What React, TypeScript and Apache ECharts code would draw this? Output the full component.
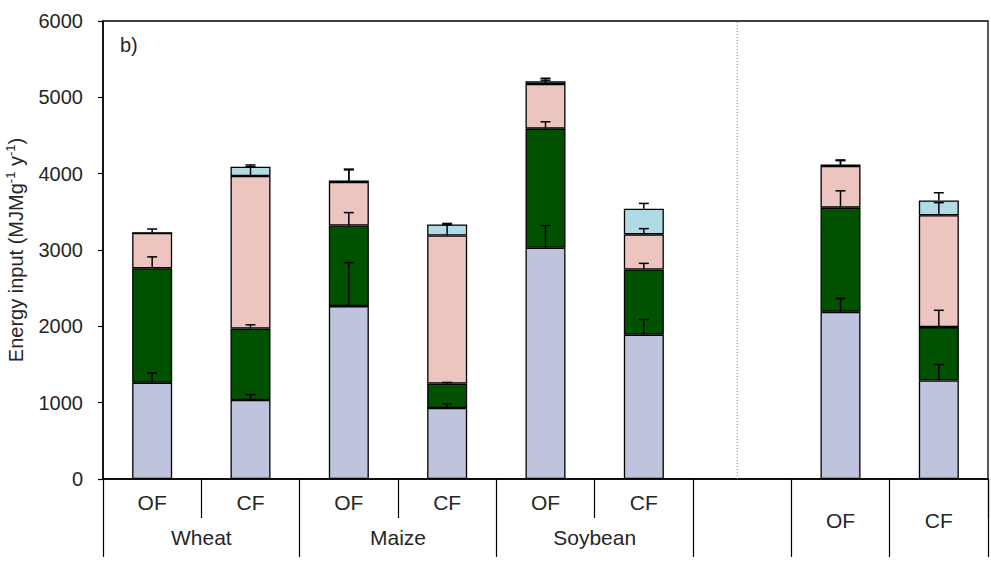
import { useEffect, useRef } from 'react';
import * as echarts from 'echarts';

// ---- data ----
const slots = ['Wheat OF', 'Wheat CF', 'Maize OF', 'Maize CF', 'Soybean OF', 'Soybean CF', 'gap', 'Mean OF', 'Mean CF'];
const slotLabels = ['OF', 'CF', 'OF', 'CF', 'OF', 'CF', '', 'OF', 'CF'];
const groupLabels: Record<number, string> = { 1: 'Wheat', 3: 'Maize', 5: 'Soybean' };
const yTicks = [0, 1000, 2000, 3000, 4000, 5000, 6000];

const seg1 = [1260, 1035, 2265, 930, 3030, 1890, null, 2190, 1290];
const seg1Err = [130, 70, 570, 55, 290, 200, null, 175, 210];
const seg2 = [1500, 935, 1055, 320, 1560, 855, null, 1365, 700];
const seg2Err = [150, 50, 170, 15, 90, 80, null, 220, 220];
const seg3 = [465, 2000, 570, 1940, 585, 460, null, 545, 1465];
const seg3Err = [50, 120, 160, 140, 50, 75, null, 70, 165];
const seg4 = [0, 122, 20, 145, 35, 335, null, 20, 195];
const seg4Err = [0, 22, 150, 13, 40, 70, null, 60, 100];

const segNames = ['Segment 1', 'Segment 2', 'Segment 3', 'Segment 4'];
const segColors = ['#BEC3DE', '#005200', '#ECC4C0', '#B0DAE6'];
const dividerPos = 6.45;
const longTickIdx = [0, 2, 4, 6, 7, 8];
const shortTickIdx = [1, 3, 5];

export default function App() {
  const ref = useRef<HTMLDivElement>(null);
  useEffect(() => {
    if (!ref.current) return;
    const chart = echarts.init(ref.current, null, { renderer: 'svg' });
    const segs = [seg1, seg2, seg3, seg4];
    const errs = [seg1Err, seg2Err, seg3Err, seg4Err];
    const errData: number[][] = [];
    for (let i = 0; i < slots.length; i++) {
      let cum = 0;
      for (let s = 0; s < 4; s++) {
        const v = segs[s][i];
        if (v == null) continue;
        cum += v;
        const e = errs[s][i];
        if (e) errData.push([i, cum, e]);
      }
    }
    const txt = '#262626';
    const font = 'Liberation Sans, Arial, sans-serif';
    const barSeries = segs.map((d, s) => ({
      name: segNames[s],
      type: 'bar',
      stack: 'total',
      xAxisIndex: 0,
      yAxisIndex: 0,
      barWidth: 40,
      data: d.map((v) => (v == null ? '-' : v)),
      itemStyle: { color: segColors[s], borderColor: '#000', borderWidth: 1.3 },
      z: 2,
    }));
    chart.setOption({
      animation: false,
      textStyle: { fontFamily: font },
      grid: {
        left: 103, right: 3, top: 21, bottom: 82,
        containLabel: false, outerBoundsMode: 'none',
        show: true, borderColor: '#000', borderWidth: 1.3, backgroundColor: 'transparent',
      },
      graphic: [
        { type: 'text', left: 120, top: 35, style: { text: 'b)', fontSize: 20, fill: txt, fontFamily: font } },
      ],
      xAxis: [
        {
          type: 'category',
          data: slots,
          position: 'bottom',
          axisLine: { show: true, lineStyle: { color: '#000', width: 1.5 } },
          axisTick: { show: true, interval: (i: number) => shortTickIdx.includes(i), length: 39, lineStyle: { color: '#000', width: 1.2 } },
          axisLabel: {
            interval: 0,
            margin: 13,
            fontSize: 21,
            color: txt,
            formatter: (_v: string, i: number) => (i >= 7 ? `{low|${slotLabels[i]}}` : slotLabels[i]),
            rich: { low: { fontSize: 21, lineHeight: 56, color: txt } },
          },
          splitLine: { show: false },
        },
        {
          type: 'category',
          data: slots,
          position: 'bottom',
          axisLine: { show: false },
          axisTick: { show: true, interval: (i: number) => longTickIdx.includes(i), length: 78, lineStyle: { color: '#000', width: 1.2 } },
          axisLabel: { show: false },
          splitLine: { show: false },
        },
        {
          type: 'value',
          min: 0,
          max: 9,
          interval: 1,
          position: 'bottom',
          axisLine: { show: false },
          axisTick: { show: false },
          splitLine: { show: false },
          axisLabel: { margin: 48, fontSize: 21, color: txt, formatter: (v: number) => groupLabels[v] || '' },
        },
      ],
      yAxis: {
        type: 'value',
        min: 0,
        max: 6000,
        interval: 1000,
        axisLine: { show: true, lineStyle: { color: '#000', width: 1.5 } },
        axisTick: { show: true, inside: false, length: 5, lineStyle: { color: '#000', width: 1.2 } },
        splitLine: { show: false },
        axisLabel: { fontSize: 20, color: txt, margin: 20, formatter: (v: number) => (yTicks.includes(v) ? String(v) : '') },
        name: '{n|Energy input (MJMg}{s|-1}{n| y}{s|-1}{n|)}',
        nameLocation: 'middle',
        nameRotate: 90,
        nameGap: 75,
        nameTextStyle: {
          rich: {
            n: { fontSize: 20, color: txt, lineHeight: 24, fontFamily: font },
            s: { fontSize: 13, color: txt, verticalAlign: 'top', lineHeight: 24, fontFamily: font },
          },
        },
      },
      series: [
        ...barSeries,
        {
          name: 'Error bars',
          type: 'custom',
          xAxisIndex: 0,
          yAxisIndex: 0,
          z: 5,
          data: errData,
          renderItem: (_p: any, api: any) => {
            const x = api.value(0);
            const top = api.value(1);
            const e = api.value(2);
            const p0 = api.coord([x, top]);
            const p1 = api.coord([x, top + e]);
            return {
              type: 'group',
              children: [
                { type: 'line', shape: { x1: p0[0], y1: p0[1], x2: p1[0], y2: p1[1] }, style: { stroke: '#000', lineWidth: 1.5 } },
                { type: 'line', shape: { x1: p1[0] - 5, y1: p1[1], x2: p1[0] + 5, y2: p1[1] }, style: { stroke: '#000', lineWidth: 1.5 } },
              ],
            };
          },
        },
        {
          name: 'Divider',
          type: 'custom',
          xAxisIndex: 2,
          yAxisIndex: 0,
          z: 1,
          data: [[dividerPos]],
          renderItem: (_p: any, api: any) => {
            const x = api.value(0);
            const a = api.coord([x, 0]);
            const b = api.coord([x, 6000]);
            return {
              type: 'line',
              shape: { x1: a[0], y1: a[1], x2: b[0], y2: b[1] },
              style: { stroke: '#888', lineWidth: 1, lineDash: [1, 2] },
            };
          },
        },
      ],
    });
    return () => chart.dispose();
  }, []);
  return <div ref={ref} style={{ width: 991, height: 561, position: 'absolute', left: 0, top: 0 }} />;
}
